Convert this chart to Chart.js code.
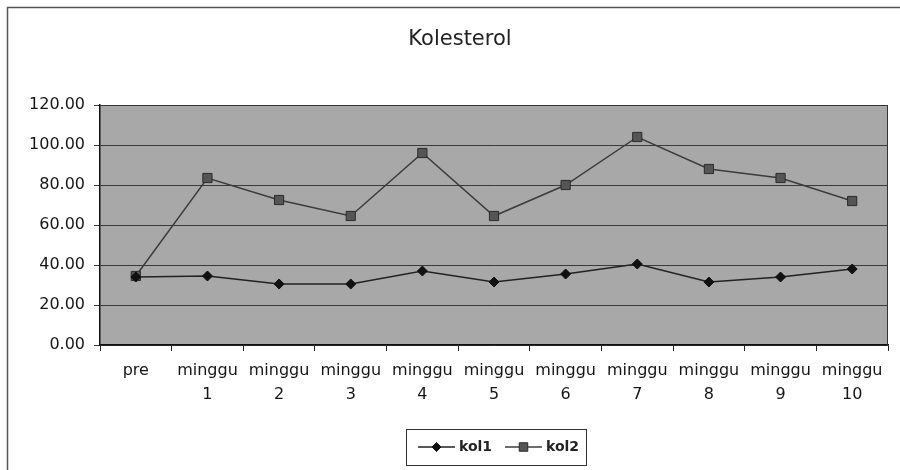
<!DOCTYPE html>
<html>
<head>
<meta charset="utf-8">
<script src="https://cdn.jsdelivr.net/npm/chart.js@4.4.1/dist/chart.umd.min.js"></script>
<style>
  html, body { margin: 0; padding: 0; background: #fff; }
  #wrap { width: 900px; height: 470px; position: relative; }
</style>
</head>
<body>
<div id="wrap"><canvas id="c" width="900" height="470"></canvas></div>
<script>
const chartTitle = 'Kolesterol';
const categories = [
  'pre',
  ['minggu', '1'], ['minggu', '2'], ['minggu', '3'], ['minggu', '4'], ['minggu', '5'],
  ['minggu', '6'], ['minggu', '7'], ['minggu', '8'], ['minggu', '9'], ['minggu', '10']
];
const kol1 = [34, 34.5, 30.5, 30.5, 37, 31.5, 35.5, 40.5, 31.5, 34, 38];
const kol2 = [34.5, 83.5, 72.5, 64.5, 96, 64.5, 80, 104, 88, 83.5, 72];
const yTicks = [0, 20, 40, 60, 80, 100, 120];

const FONT = '"DejaVu Sans", "Liberation Sans", Arial, sans-serif';

const frameAndTitle = {
  id: 'frameAndTitle',
  beforeDraw(chart) {
    const { ctx, chartArea: a } = chart;
    ctx.save();
    // outer border (top and left visible)
    ctx.strokeStyle = '#555';
    ctx.lineWidth = 1.5;
    ctx.beginPath();
    ctx.moveTo(7.5, 470);
    ctx.lineTo(7.5, 7.5);
    ctx.lineTo(900, 7.5);
    ctx.stroke();
    // plot background
    ctx.fillStyle = '#a8a8a8';
    ctx.fillRect(a.left, a.top, a.right - a.left, a.bottom - a.top);
    // title
    ctx.fillStyle = '#222';
    ctx.font = '21px ' + FONT;
    ctx.textAlign = 'center';
    ctx.textBaseline = 'middle';
    ctx.fillText(chartTitle, 460, 40);
    ctx.restore();
  },
  afterDatasetsDraw(chart) {
    const { ctx, chartArea: a } = chart;
    ctx.save();
    ctx.strokeStyle = '#333';
    ctx.lineWidth = 1;
    ctx.beginPath();
    ctx.moveTo(a.left, a.top + 0.5);
    ctx.lineTo(a.right - 0.5, a.top + 0.5);
    ctx.lineTo(a.right - 0.5, a.bottom);
    ctx.stroke();
    ctx.restore();
  },
  afterDraw(chart) {
    const { ctx } = chart;
    ctx.save();
    ctx.strokeStyle = '#333';
    ctx.lineWidth = 1;
    ctx.strokeRect(406.5, 429.5, 180, 36);
    const cy = 447;
    const items = [
      { x0: 418, x1: 455, tx: 459, ds: chart.data.datasets[0] },
      { x0: 505, x1: 542, tx: 546, ds: chart.data.datasets[1] }
    ];
    ctx.font = 'bold 14px ' + FONT;
    ctx.textAlign = 'left';
    ctx.textBaseline = 'middle';
    items.forEach(it => {
      ctx.strokeStyle = it.ds.borderColor;
      ctx.lineWidth = 1.5;
      ctx.beginPath();
      ctx.moveTo(it.x0, cy);
      ctx.lineTo(it.x1, cy);
      ctx.stroke();
      ctx.fillStyle = it.ds.pointBackgroundColor;
      ctx.strokeStyle = it.ds.pointBorderColor;
      ctx.lineWidth = 1;
      Chart.helpers.drawPoint(ctx, {
        pointStyle: it.ds.pointStyle,
        radius: it.ds.pointRadius - 0.5,
        borderWidth: 1,
        rotation: 0
      }, (it.x0 + it.x1) / 2, cy);
      ctx.fillStyle = '#222';
      ctx.fillText(it.ds.label, it.tx, cy);
    });
    ctx.restore();
  }
};

new Chart(document.getElementById('c'), {
  type: 'line',
  data: {
    labels: categories,
    datasets: [
      {
        label: 'kol1',
        data: kol1,
        borderColor: '#222',
        borderWidth: 1.5,
        pointStyle: 'rectRot',
        pointRadius: 5,
        pointBackgroundColor: '#111',
        pointBorderColor: '#111',
        pointBorderWidth: 1,
        tension: 0,
        fill: false
      },
      {
        label: 'kol2',
        data: kol2,
        borderColor: '#3c3c3c',
        borderWidth: 1.5,
        pointStyle: 'rect',
        pointRadius: 6.5,
        pointBackgroundColor: '#555',
        pointBorderColor: '#2a2a2a',
        pointBorderWidth: 1,
        tension: 0,
        fill: false
      }
    ]
  },
  options: {
    responsive: false,
    animation: false,
    layout: { padding: { top: 105, right: 12, bottom: 0, left: 0 } },
    plugins: {
      legend: { display: false },
      title: { display: false },
      tooltip: { enabled: false }
    },
    scales: {
      x: {
        offset: true,
        grid: {
          offset: true,
          drawOnChartArea: false,
          tickLength: 6,
          color: '#222'
        },
        border: { color: '#111', width: 1.5 },
        ticks: {
          color: '#151515',
          padding: 7,
          maxRotation: 0,
          autoSkip: false,
          font: { family: FONT, size: 16, lineHeight: 1.55 }
        },
        afterFit(scale) { scale.height = 125; }
      },
      y: {
        min: 0,
        max: 120,
        afterBuildTicks(scale) { scale.ticks = yTicks.map(v => ({ value: v })); },
        grid: {
          color: '#3a3a3a',
          lineWidth: 1,
          tickLength: 6,
          drawTicks: true
        },
        border: { color: '#111', width: 1.5 },
        ticks: {
          color: '#151515',
          padding: 9,
          font: { family: FONT, size: 16 },
          callback: (v) => Number(v).toFixed(2)
        },
        afterFit(scale) { scale.width = 100; }
      }
    }
  },
  plugins: [frameAndTitle]
});
</script>
</body>
</html>
